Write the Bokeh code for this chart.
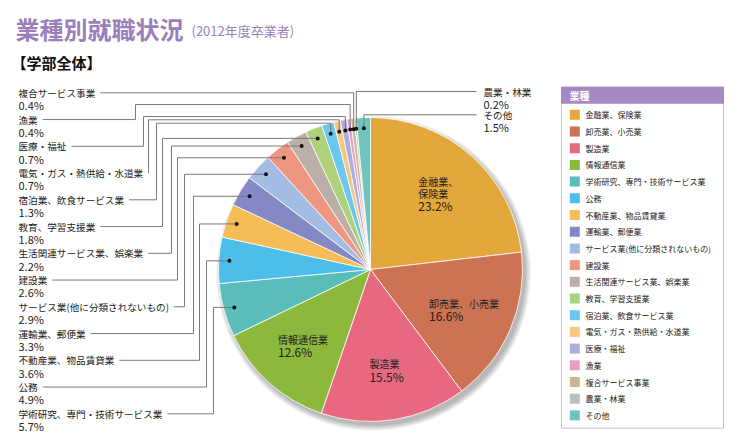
import math
from bokeh.plotting import figure
from bokeh.models import Range1d, ColumnDataSource
from bokeh.core.properties import value
from bokeh.embed import file_html
from bokeh.resources import INLINE

# ---------------- data ----------------
categories = ["金融業、保険業", "卸売業、小売業", "製造業", "情報通信業",
              "学術研究、専門・技術サービス業", "公務", "不動産業、物品賃貸業",
              "運輸業、郵便業", "サービス業(他に分類されないもの)", "建設業",
              "生活関連サービス業、娯楽業", "教育、学習支援業", "宿泊業、飲食サービス業",
              "電気・ガス・熱供給・水道業", "医療・福祉", "漁業", "複合サービス事業",
              "農業・林業", "その他"]
shares = [23.2, 16.6, 15.5, 12.6, 5.7, 4.9, 3.6, 3.3, 2.9, 2.6, 2.2, 1.8, 1.3,
          0.7, 0.7, 0.4, 0.4, 0.2, 1.5]
colors = ["#E4A73B", "#CD7252", "#E8697F", "#8CB83C", "#5BBDBA", "#4DBDEA",
          "#F5BC58", "#8489C5", "#A4BCE3", "#EE9682", "#BCAFA8", "#AED27C",
          "#6BC6F0", "#F8C77F", "#ACAEDD", "#EE9BC7", "#C8B893", "#BABEC3",
          "#6FC4BE"]
inside_idx = [0, 1, 2, 3]
inside_names = ["金融業、\n保険業", "卸売業、小売業", "製造業", "情報通信業"]
left_idx = [16, 15, 14, 13, 12, 11, 10, 9, 8, 7, 6, 5, 4]
right_idx = [17, 18]
title = "業種別就職状況"
subtitle = "(2012年度卒業者)"
section = "【学部全体】"
legend_title = "業種"

# ---------------- layout ----------------
FONT = value("Noto Sans CJK JP")
W, H = 740, 447
CX, CY, R = 370, 269, 152
TOP = 447  # data y of the picture's top edge


def Y(y):
    return TOP - y


def tw(s, fs):
    w = 0
    for ch in s:
        if ord(ch) > 0x2000:
            w += fs
        elif ch in ".,":
            w += 0.3 * fs
        elif ch == "%":
            w += 0.85 * fs
        elif ch in "()":
            w += 0.33 * fs
        else:
            w += 0.56 * fs
    return w


p = figure(width=W, height=H, x_range=Range1d(0, W), y_range=Range1d(TOP - H, TOP),
           output_backend="svg", toolbar_location=None, min_border=0,
           x_axis_type=None, y_axis_type=None)
p.grid.visible = False
p.outline_line_color = None
p.background_fill_color = "white"
p.border_fill_color = "white"

# title
p.text(x=[15], y=[Y(28)], text=[title], text_font=FONT, text_font_size="24px",
       text_font_style="bold", text_color="#9A7FBB", text_baseline="middle")
p.text(x=[191], y=[Y(30)], text=[subtitle], text_font=FONT, text_font_size="13px",
       text_color="#9A7FBB", text_baseline="middle")
p.text(x=[11], y=[Y(62)], text=[section], text_font=FONT, text_font_size="15px",
       text_font_style="bold", text_color="#111111", text_baseline="middle")

# pie geometry
total = sum(shares)
cum = 0.0
starts, ends, mids = [], [], []
for v in shares:
    a0 = cum / total
    cum += v
    a1 = cum / total
    starts.append(math.pi / 2 - 2 * math.pi * a0)
    ends.append(math.pi / 2 - 2 * math.pi * a1)
    mids.append((a0 + a1) / 2)


def pt(f, rr):
    return CX + rr * math.sin(2 * math.pi * f), CY - rr * math.cos(2 * math.pi * f)


# shadow
for k in range(7):
    p.circle(x=[CX + 3], y=[Y(CY + 4)], radius=R + k * 0.9, fill_color="#000000",
             fill_alpha=0.045, line_color=None)

src = ColumnDataSource(dict(x=[CX] * len(shares), y=[Y(CY)] * len(shares),
                            s=starts, e=ends, c=colors))
p.wedge(x="x", y="y", radius=R, start_angle="s", end_angle="e", direction="clock",
        fill_color="c", line_color="white", line_width=0.8, source=src)

# inside labels
for i, name in zip(inside_idx, inside_names):
    lines = name.split("\n")
    pct = f"{shares[i]}%"
    bw = max([tw(l, 10) for l in lines] + [tw(pct, 12)])
    bx, by = pt(mids[i], 0.67 * R)
    n = len(lines) + 1
    top = by - (n - 1) * 12.3 / 2
    x0 = bx - bw / 2
    for j, l in enumerate(lines):
        p.text(x=[x0], y=[Y(top + j * 12.3)], text=[l], text_font=FONT, text_font_size="10px",
               text_color="#222222", text_baseline="middle")
    p.text(x=[x0], y=[Y(top + (n - 1) * 12.3)], text=[pct], text_font=FONT,
           text_font_size="12px", text_color="#222222", text_baseline="middle")

# left labels with leader lines
elbow_x = [None, 135, 143, 148, 156, 162, 171, 177, 184, 193, 199, 206, 213]
hor_y = [None, 104, 116, 119.3, 122.7]
xs, ys, dxs, dys = [], [], [], []
for k, i in enumerate(left_idx):
    ly = 92.3 + k * 26.75
    name = categories[i]
    p.text(x=[18], y=[Y(ly)], text=[name], text_font=FONT, text_font_size="9.6px",
           text_color="#222222", text_baseline="middle")
    p.text(x=[18], y=[Y(ly + 12.3)], text=[f"{shares[i]}%"], text_font=FONT,
           text_font_size="11px", text_color="#222222", text_baseline="middle")
    dx, dy = pt(mids[i], 0.93 * R)
    dxs.append(dx)
    dys.append(Y(dy))
    x_start = 18 + tw(name, 9.6) + 5
    if k == 0:
        path = [(x_start, ly), (dx, ly), (dx, dy)]
    elif k < len(hor_y):
        ex = elbow_x[k]
        hy = hor_y[k]
        path = [(x_start, ly), (ex, ly), (ex, hy), (dx, hy), (dx, dy)]
    else:
        ex = elbow_x[k]
        path = [(x_start, ly), (ex, ly), (ex, dy), (dx, dy)]
    xs.append([q[0] for q in path])
    ys.append([Y(q[1]) for q in path])

# right labels
right_y = [91, 114.3]
for k, i in enumerate(right_idx):
    ly = right_y[k]
    p.text(x=[483], y=[Y(ly)], text=[categories[i]], text_font=FONT, text_font_size="9.6px",
           text_color="#222222", text_baseline="middle")
    p.text(x=[483], y=[Y(ly + 12.6)], text=[f"{shares[i]}%"], text_font=FONT,
           text_font_size="11px", text_color="#222222", text_baseline="middle")
    dx, dy = pt(mids[i], 0.93 * R)
    dxs.append(dx)
    dys.append(Y(dy))
    path = [(dx, dy), (dx, ly), (476, ly)]
    xs.append([q[0] for q in path])
    ys.append([Y(q[1]) for q in path])

p.multi_line(xs=xs, ys=ys, line_color="#7A7A7A", line_width=1)
p.scatter(x=dxs, y=dys, size=4, fill_color="#111111", line_color=None)

# legend
LX0, LX1, LY0, LY1 = 561, 723, 86.7, 427.7
p.quad(left=[LX0], right=[LX1], top=[Y(LY0)], bottom=[Y(LY1)], fill_color="white",
       line_color="#C9BEDA", line_width=1)
p.quad(left=[LX0], right=[LX1], top=[Y(LY0)], bottom=[Y(102.7)], fill_color="#A688C4",
       line_color="#A688C4", line_width=1)
p.text(x=[569], y=[Y(94.7)], text=[legend_title], text_font=FONT, text_font_size="10px",
       text_font_style="bold", text_color="white", text_baseline="middle")
iy = [114.3 + j * 16.7 for j in range(len(categories))]
p.quad(left=[569.3] * len(categories), right=[579.3] * len(categories),
       top=[Y(y - 5) for y in iy], bottom=[Y(y + 5) for y in iy],
       fill_color=colors, line_color=None)
p.text(x=[585] * len(categories), y=[Y(y) for y in iy], text=categories, text_font=FONT,
       text_font_size="8px", text_color="#222222", text_baseline="middle")

open("out.html", "w").write(file_html(p, INLINE))
